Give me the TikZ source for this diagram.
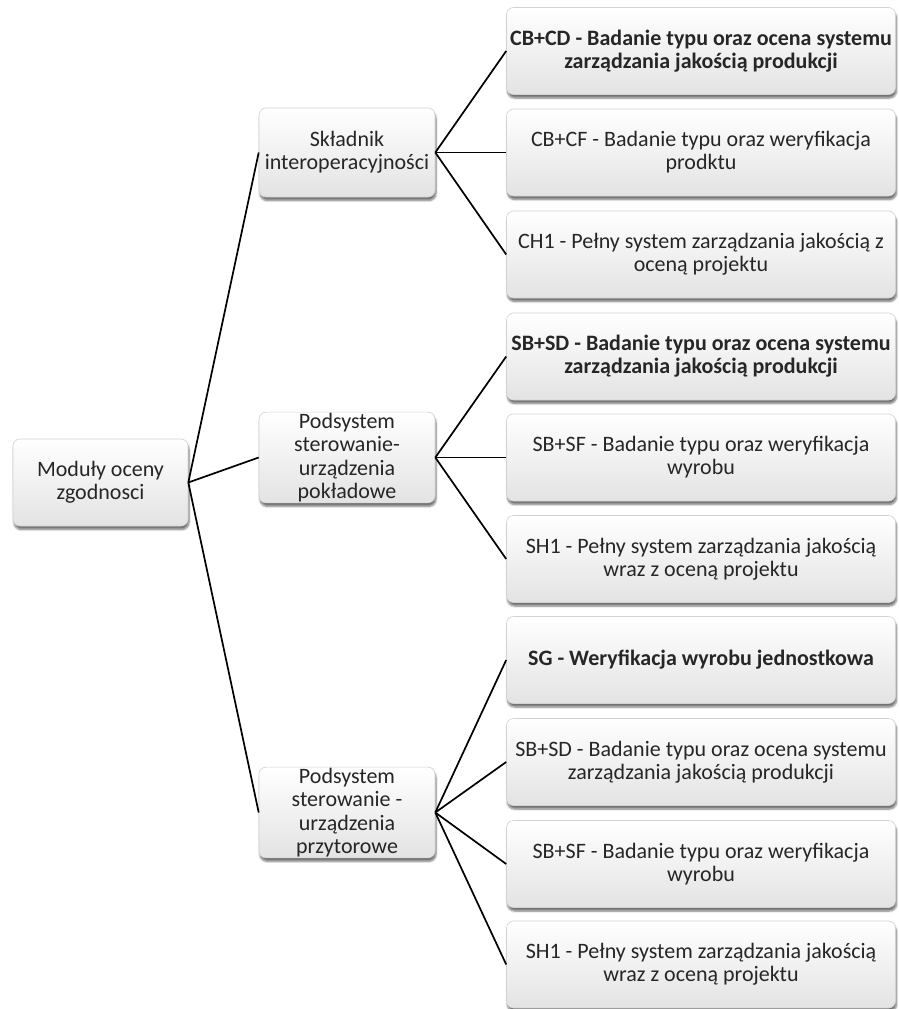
\documentclass[tikz,border=0pt]{standalone}
\usepackage{fontspec}
\setmainfont{Carlito}
\usetikzlibrary{shadows.blur}

\begin{document}
\begin{tikzpicture}[x=1pt, y=-1pt,
    box/.style={draw=gray!35, line width=0.6pt, rounded corners=7pt,
        top color=white, bottom color=gray!22, text=black!85,
        blur shadow={shadow xshift=1pt, shadow yshift=-3.5pt, shadow blur steps=6, shadow opacity=55},
        align=center, inner sep=1pt, font=\fontsize{22}{23}\selectfont},
    rootbox/.style={box, minimum width=175pt, minimum height=87pt},
    midbox/.style={box, minimum width=176pt, minimum height=89pt, font=\fontsize{22}{23.3}\selectfont},
    leafbox/.style={box, minimum width=389pt, minimum height=87pt},
    link/.style={draw=black, line width=1.7pt}]
    \useasboundingbox (0,0) rectangle (899,1009);

    % korzen
    \node[rootbox] (moduly) at (100.5, 482.5) {Moduły oceny\\zgodnosci};

    % poziom 1
    \node[midbox] (skladnik) at (347, 152.5) {Składnik\\interoperacyjności};
    \node[midbox] (pokladowe) at (347, 457.5) {Podsystem\\sterowanie-\\urządzenia\\pokładowe};
    \node[midbox] (przytorowe) at (347, 812.5) {Podsystem\\sterowanie -\\urządzenia\\przytorowe};

    % poziom 2
    \node[leafbox] (cbcd) at (701, 51) {\bfseries CB+CD - Badanie typu oraz ocena systemu\\\bfseries zarządzania jakością produkcji};
    \node[leafbox] (cbcf) at (701, 152.5) {CB+CF - Badanie typu oraz weryfikacja\\prodktu};
    \node[leafbox] (chone) at (701, 254.5) {CH1 - Pełny system zarządzania jakością z\\oceną projektu};
    \node[leafbox] (sbsdpok) at (701, 356.5) {\bfseries SB+SD - Badanie typu oraz ocena systemu\\\bfseries zarządzania jakością produkcji};
    \node[leafbox] (sbsfpok) at (701, 457.5) {SB+SF - Badanie typu oraz weryfikacja\\wyrobu};
    \node[leafbox] (shonepok) at (701, 559) {SH1 - Pełny system zarządzania jakością\\wraz z oceną projektu};
    \node[leafbox] (sg) at (701, 660) {\bfseries SG - Weryfikacja wyrobu jednostkowa};
    \node[leafbox] (sbsdprz) at (701, 762) {SB+SD - Badanie typu oraz ocena systemu\\zarządzania jakością produkcji};
    \node[leafbox] (sbsfprz) at (701, 864) {SB+SF - Badanie typu oraz weryfikacja\\wyrobu};
    \node[leafbox] (shoneprz) at (701, 964.5) {SH1 - Pełny system zarządzania jakością\\wraz z oceną projektu};

    % polaczenia
    \draw[link] (moduly.east) -- (skladnik.west);
    \draw[link] (moduly.east) -- (pokladowe.west);
    \draw[link] (moduly.east) -- (przytorowe.west);

    \draw[link] (skladnik.east) -- (cbcd.west);
    \draw[link] (skladnik.east) -- (cbcf.west);
    \draw[link] (skladnik.east) -- (chone.west);

    \draw[link] (pokladowe.east) -- (sbsdpok.west);
    \draw[link] (pokladowe.east) -- (sbsfpok.west);
    \draw[link] (pokladowe.east) -- (shonepok.west);

    \draw[link] (przytorowe.east) -- (sg.west);
    \draw[link] (przytorowe.east) -- (sbsdprz.west);
    \draw[link] (przytorowe.east) -- (sbsfprz.west);
    \draw[link] (przytorowe.east) -- (shoneprz.west);
\end{tikzpicture}
\end{document}
